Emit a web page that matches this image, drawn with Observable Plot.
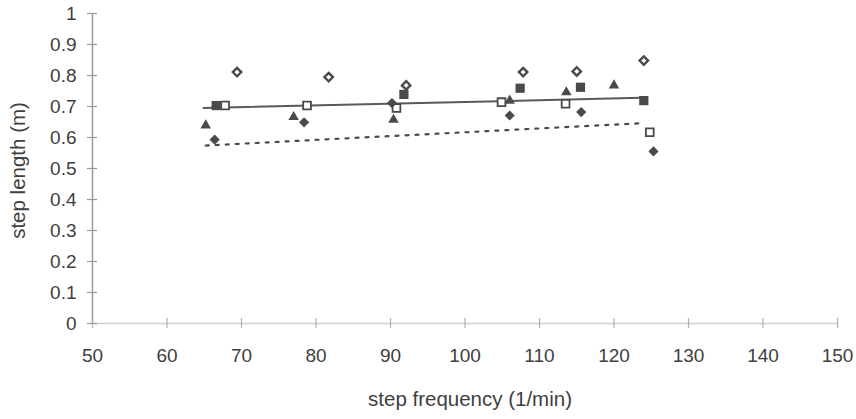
<!DOCTYPE html>
<html>
<head>
<meta charset="utf-8">
<script src="https://cdn.jsdelivr.net/npm/d3@7"></script>
<script src="https://cdn.jsdelivr.net/npm/@observablehq/plot@0.6"></script>
<style>
  html, body { margin: 0; padding: 0; background: #fff; }
  #chart { width: 856px; height: 419px; }
</style>
</head>
<body>
<div id="chart"></div>
<script>
// Tick labels
const xTicks = [50, 60, 70, 80, 90, 100, 110, 120, 130, 140, 150];
const yTicks = [0, 0.1, 0.2, 0.3, 0.4, 0.5, 0.6, 0.7, 0.8, 0.9, 1];
const xTitle = "step frequency (1/min)";
const yTitle = "step length (m)";

// Series (step frequency in 1/min, step length in m)
const triFreq = [65.2, 77.0, 90.4, 106.0, 113.6, 120.0];
const triLen  = [0.639, 0.666, 0.657, 0.719, 0.746, 0.768];
const fsqFreq = [66.6, 91.8, 107.4, 115.5, 124.0];
const fsqLen  = [0.703, 0.739, 0.759, 0.762, 0.719];
const osqFreq = [67.8, 78.8, 90.8, 104.9, 113.5, 124.8];
const osqLen  = [0.703, 0.703, 0.695, 0.714, 0.709, 0.617];
const fdiFreq = [66.4, 78.4, 90.2, 106.0, 115.6, 125.3];
const fdiLen  = [0.593, 0.649, 0.711, 0.671, 0.682, 0.555];
const odiFreq = [69.4, 81.7, 92.1, 107.8, 115.0, 124.0];
const odiLen  = [0.811, 0.795, 0.768, 0.811, 0.813, 0.848];

// Trend lines (end points)
const solidFreq = [64.9, 123.6];
const solidLen  = [0.695, 0.728];
const dotFreq   = [65.2, 123.6];
const dotLen    = [0.574, 0.646];

const rows = (xs, ys) => xs.map((x, i) => ({x, y: ys[i]}));
const ink = "#4a4a4a";

const chart = Plot.plot({
  width: 856,
  height: 419,
  marginLeft: 92,
  marginRight: 19,
  marginTop: 13,
  marginBottom: 96,
  style: {fontFamily: "'Liberation Sans', Arial, sans-serif", fontSize: "19px", color: "#404040", background: "#fff"},
  x: {domain: [50, 150]},
  y: {domain: [0, 1]},
  marks: [
    Plot.axisX({ticks: xTicks, tickSize: 0, tickPadding: 25, tickFormat: d => String(d), label: null}),
    Plot.axisY({ticks: yTicks, tickSize: 0, tickPadding: 16, tickFormat: d => String(d), label: null}),
    Plot.text([xTitle], {frameAnchor: "bottom", text: d => d, dx: 5, dy: 82, fontSize: 20.5, fill: "#404040"}),
    Plot.text([yTitle], {frameAnchor: "left", text: d => d, textAnchor: "middle", rotate: -90, dx: -74, dy: 2, fontSize: 20.5, fill: "#404040"}),
    Plot.ruleY([0], {stroke: "#cfcfcf", strokeWidth: 1.5}),
    Plot.ruleX([50], {y1: 0, y2: 1, stroke: "#9a9a9a", strokeWidth: 1.5}),
    Plot.ruleX(xTicks, {y1: 0, y2: 0, insetTop: -5, insetBottom: -5, stroke: "#b0b0b0", strokeWidth: 1.2}),
    Plot.ruleY(yTicks, {x1: 50, x2: 50, insetLeft: -5, insetRight: -5, stroke: "#9a9a9a", strokeWidth: 1.2}),
    Plot.line(rows(solidFreq, solidLen), {x: "x", y: "y", stroke: "#5a5a5a", strokeWidth: 2}),
    Plot.line(rows(dotFreq, dotLen), {x: "x", y: "y", stroke: "#4a4a4a", strokeWidth: 2.2, strokeDasharray: "3,7"}),
    Plot.dot(rows(fsqFreq, fsqLen), {x: "x", y: "y", symbol: "square", r: 5.2, fill: ink}),
    Plot.dot(rows(osqFreq, osqLen), {x: "x", y: "y", symbol: "square", r: 4.4, fill: "#fff", stroke: ink, strokeWidth: 1.8}),
    Plot.dot(rows(triFreq, triLen), {x: "x", y: "y", symbol: "triangle", r: 3.9, fill: ink}),
    Plot.dot(rows(fdiFreq, fdiLen), {x: "x", y: "y", symbol: "diamond2", r: 4.6, fill: ink}),
    Plot.dot(rows(odiFreq, odiLen), {x: "x", y: "y", symbol: "diamond2", r: 3.8, fill: "#fff", stroke: ink, strokeWidth: 2.4})
  ]
});
document.getElementById("chart").appendChild(chart);
</script>
</body>
</html>
